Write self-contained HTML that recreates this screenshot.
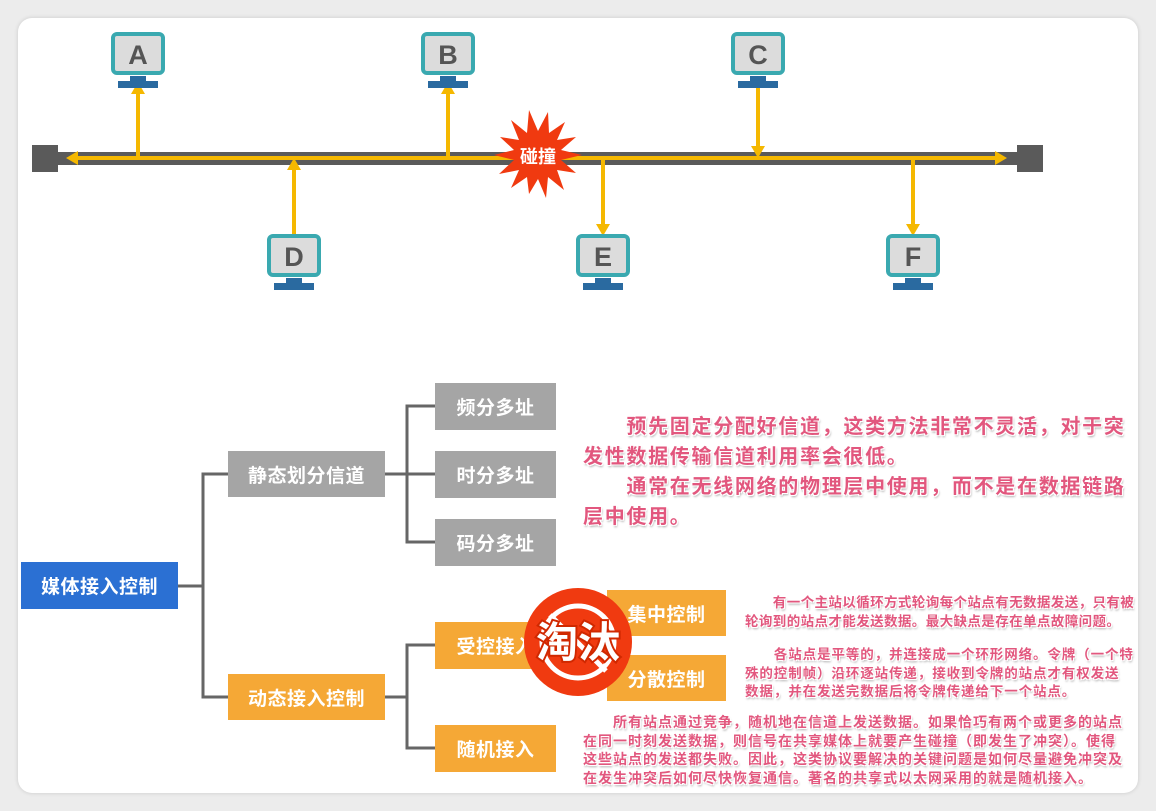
<!DOCTYPE html>
<html><head><meta charset="utf-8">
<style>
body{margin:0;width:1156px;height:811px;background:#ececec;position:relative;overflow:hidden;font-family:"Liberation Sans","Noto Sans CJK SC",sans-serif;}
.card{position:absolute;left:18px;top:18px;width:1120px;height:775px;background:#fff;border-radius:14px;box-shadow:0 0 4px rgba(0,0,0,.15);}
.box{position:absolute;color:#fff;font-weight:bold;font-size:19px;display:flex;align-items:center;justify-content:center;letter-spacing:0.5px;}
.g{background:#a5a5a5}.o{background:#f5a836}.b{background:#2b70d3}
.txt{position:absolute;color:#e2577e;font-weight:bold;text-shadow:-1px -1px 0 #fff,1px -1px 0 #fff,-1px 1px 0 #fff,1px 1px 0 #fff,1px 2px 2px rgba(0,0,0,.35);}
.big{font-size:20px;line-height:30px;letter-spacing:1.7px;}
.sm{font-size:13.5px;line-height:18.5px;letter-spacing:0.4px;white-space:nowrap;}
</style></head><body>
<div class="card"></div>
<svg style="position:absolute;left:0;top:0" width="1156" height="811">
<defs>
<g id="mon"><rect x="-25" y="0" width="50" height="39" rx="4" fill="#dcdcdc" stroke="#3aa9b0" stroke-width="4"/>
<rect x="-8" y="42" width="16" height="6" fill="#2a6aa0"/><rect x="-20" y="47" width="40" height="7" fill="#2a6aa0"/></g>
</defs>
<rect x="32" y="152" width="1011" height="13" fill="#5a5a5a"/>
<rect x="32" y="145" width="26" height="27" fill="#5a5a5a"/>
<rect x="1017" y="145" width="26" height="27" fill="#5a5a5a"/>
<g stroke="#f5b800" stroke-width="4" fill="none">
<line x1="76" y1="158" x2="997" y2="158"/>
<line x1="138" y1="158" x2="138" y2="92"/>
<line x1="448" y1="158" x2="448" y2="92"/>
<line x1="758" y1="82" x2="758" y2="150"/>
<line x1="294" y1="236" x2="294" y2="166"/>
<line x1="603" y1="158" x2="603" y2="226"/>
<line x1="913" y1="158" x2="913" y2="226"/>
</g>
<g fill="#f5b800">
<polygon points="66,158 78,151 78,165"/>
<polygon points="1007,158 995,151 995,165"/>
<polygon points="138,82 131,94 145,94"/>
<polygon points="448,82 441,94 455,94"/>
<polygon points="758,158 751,146 765,146"/>
<polygon points="294,158 287,170 301,170"/>
<polygon points="603,236 596,224 610,224"/>
<polygon points="913,236 906,224 920,224"/>
</g>
<use href="#mon" x="138" y="34"/><use href="#mon" x="448" y="34"/><use href="#mon" x="758" y="34"/>
<use href="#mon" x="294" y="236"/><use href="#mon" x="603" y="236"/><use href="#mon" x="913" y="236"/>
<g font-family="Liberation Sans,sans-serif" font-size="27" font-weight="bold" fill="#555" text-anchor="middle">
<text x="138" y="64">A</text><text x="448" y="64">B</text><text x="758" y="64">C</text>
<text x="294" y="266">D</text><text x="603" y="266">E</text><text x="913" y="266">F</text>
</g>
<polygon fill="#f03a10" points="582,155 561,160 576,173 557,170 564,190 548,177 546,198 538,179 529,194 527,177 511,188 519,170 499,174 514,160 494,155 514,150 500,137 519,140 511,120 527,133 529,110 538,131 548,112 549,133 565,122 557,140 576,137 561,150"/>
<text x="538" y="163" font-family="Liberation Sans,'Noto Sans CJK SC',sans-serif" font-size="18" font-weight="bold" fill="#fff" text-anchor="middle">碰撞</text>
<g stroke="#666" stroke-width="3" fill="none">
<line x1="178" y1="586" x2="203" y2="586"/>
<polyline points="228,474 203,474 203,697 228,697"/>
<line x1="384" y1="474" x2="407" y2="474"/>
<polyline points="435,406 407,406 407,542 435,542"/>
<line x1="407" y1="474" x2="435" y2="474"/>
<line x1="384" y1="697" x2="407" y2="697"/>
<polyline points="435,645 407,645 407,748 435,748"/>
<polyline points="607,613 585,613 585,678 607,678"/>
</g>
</svg>
<div class="box b" style="left:21px;top:562px;width:157px;height:47px">媒体接入控制</div>
<div class="box g" style="left:228px;top:451px;width:157px;height:46px">静态划分信道</div>
<div class="box o" style="left:228px;top:674px;width:157px;height:46px">动态接入控制</div>
<div class="box g" style="left:435px;top:383px;width:121px;height:47px">频分多址</div>
<div class="box g" style="left:435px;top:451px;width:121px;height:47px">时分多址</div>
<div class="box g" style="left:435px;top:519px;width:121px;height:47px">码分多址</div>
<div class="box o" style="left:435px;top:622px;width:121px;height:47px">受控接入</div>
<div class="box o" style="left:435px;top:725px;width:121px;height:47px">随机接入</div>
<div class="box o" style="left:607px;top:590px;width:119px;height:46px">集中控制</div>
<div class="box o" style="left:607px;top:655px;width:119px;height:46px">分散控制</div>
<svg style="position:absolute;left:520px;top:585px" width="120" height="120">
<circle cx="58" cy="57" r="54" fill="#f03a10"/>
<circle cx="58" cy="57" r="36" fill="none" stroke="#fff" stroke-width="5"/>
<line x1="30" y1="30" x2="86" y2="86" stroke="#fff" stroke-width="5"/>
<text x="58" y="72" font-family="Liberation Sans,'Noto Sans CJK SC',sans-serif" font-size="42" font-weight="bold" fill="#fff" stroke="#d02800" stroke-width="4" paint-order="stroke" text-anchor="middle">淘汰</text>
</svg>
<div class="txt big" style="left:583px;top:412px;width:555px">　　预先固定分配好信道，这类方法非常不灵活，对于突发性数据传输信道利用率会很低。<br>　　通常在无线网络的物理层中使用，而不是在数据链路层中使用。</div>
<div class="txt sm" style="left:745px;top:594px">　　有一个主站以循环方式轮询每个站点有无数据发送，只有被<br>轮询到的站点才能发送数据。最大缺点是存在单点故障问题。</div>
<div class="txt sm" style="left:745px;top:646px;letter-spacing:0.9px">　　各站点是平等的，并连接成一个环形网络。令牌（一个特<br>殊的控制帧）沿环逐站传递，接收到令牌的站点才有权发送<br>数据，并在发送完数据后将令牌传递给下一个站点。</div>
<div class="txt sm" style="left:583px;top:713px;letter-spacing:1px;font-size:14px">　　所有站点通过竞争，随机地在信道上发送数据。如果恰巧有两个或更多的站点<br>在同一时刻发送数据，则信号在共享媒体上就要产生碰撞（即发生了冲突）。使得<br>这些站点的发送都失败。因此，这类协议要解决的关键问题是如何尽量避免冲突及<br>在发生冲突后如何尽快恢复通信。著名的共享式以太网采用的就是随机接入。</div>
</body></html>
